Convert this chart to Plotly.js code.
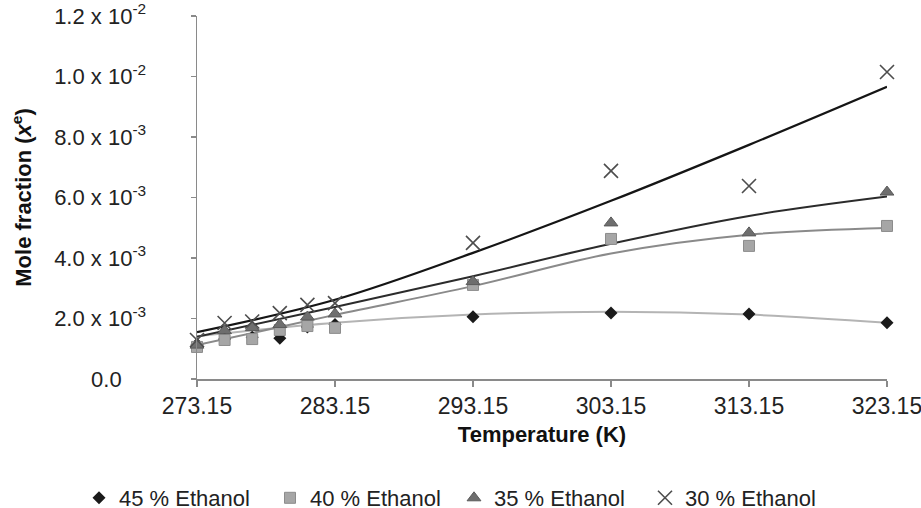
<!DOCTYPE html>
<html><head><meta charset="utf-8">
<script src="https://cdn.plot.ly/plotly-3.0.1.min.js"></script>
<style>html,body{margin:0;padding:0;background:#fff}#chart{width:921px;height:508px}</style>
</head><body><div id="chart"></div>
<script>
// Measured points
const temperatures = [273.15, 275.15, 277.15, 279.15, 281.15, 283.15, 293.15, 303.15, 313.15, 323.15];
const ethanol45 = [0.00115, 0.00132, 0.00138, 0.00135, 0.00172, 0.00180, 0.00206, 0.00218, 0.00215, 0.00186];
const ethanol40 = [0.00106, 0.00129, 0.00132, 0.00162, 0.00175, 0.00169, 0.00311, 0.00463, 0.00440, 0.00506];
const ethanol35 = [0.00112, 0.00160, 0.00170, 0.00180, 0.00205, 0.00215, 0.00322, 0.00516, 0.00483, 0.00618];
const ethanol30 = [0.00129, 0.00185, 0.00190, 0.00218, 0.00245, 0.00251, 0.00450, 0.00688, 0.00638, 0.01015];

// Trend lines
const trendTemperatures = [273.15, 283.15, 293.15, 303.15, 313.15, 323.15];
const trend45 = [0.00141, 0.00186, 0.00213, 0.00222, 0.00213, 0.00186];
const trend40 = [0.00112, 0.00212, 0.00307, 0.00415, 0.00477, 0.00499];
const trend35 = [0.00140, 0.00238, 0.00340, 0.00447, 0.00539, 0.00603];
const trend30 = [0.00155, 0.00262, 0.00417, 0.00589, 0.00774, 0.00966];

const seriesNames = ['45 % Ethanol', '40 % Ethanol', '35 % Ethanol', '30 % Ethanol'];
const xTickValues = [273.15, 283.15, 293.15, 303.15, 313.15, 323.15];
const xTickLabels = ['273.15', '283.15', '293.15', '303.15', '313.15', '323.15'];
const yTickValues = [0, 0.002, 0.004, 0.006, 0.008, 0.010, 0.012];
const yTickLabels = ['0.0\u00a0\u00a0\u00a0\u00a0', '2.0 x 10<sup>-3</sup>', '4.0 x 10<sup>-3</sup>', '6.0 x 10<sup>-3</sup>',
                     '8.0 x 10<sup>-3</sup>', '1.0 x 10<sup>-2</sup>', '1.2 x 10<sup>-2</sup>'];

const FONT = 'Liberation Sans, Arial, sans-serif';

function trendLine(y, color, width) {
  return {x: trendTemperatures, y: y, type: 'scatter', mode: 'lines',
          line: {color: color, width: width, shape: 'spline', smoothing: 1},
          showlegend: false, hoverinfo: 'skip'};
}

const traces = [
  trendLine(trend45, '#b4b4b4', 2),
  trendLine(trend40, '#8a8a8a', 2),
  trendLine(trend35, '#2b2b2b', 2),
  trendLine(trend30, '#151515', 2.2),
  {x: temperatures, y: ethanol45, name: seriesNames[0], type: 'scatter', mode: 'markers', cliponaxis: false,
   legend: 'legend',
   marker: {symbol: 'diamond', size: 10, color: '#1a1a1a', line: {width: 0}}},
  {x: temperatures, y: ethanol40, name: seriesNames[1], type: 'scatter', mode: 'markers', cliponaxis: false,
   legend: 'legend',
   marker: {symbol: 'square', size: 11, color: '#a6a6a6', line: {width: 1, color: '#8c8c8c'}}},
  {x: temperatures, y: ethanol35, name: seriesNames[2], type: 'scatter', mode: 'markers', cliponaxis: false,
   legend: 'legend2',
   marker: {symbol: 'triangle-up', size: 12, color: '#6e6e6e', line: {width: 1, color: '#5a5a5a'}}},
  {x: temperatures, y: ethanol30, name: seriesNames[3], type: 'scatter', mode: 'markers', cliponaxis: false,
   legend: 'legend2',
   marker: {symbol: 'x-thin-open', size: 14, color: '#4d4d4d', line: {width: 1.6, color: '#4d4d4d'}}}
];

const legendStyle = {
  orientation: 'h', xref: 'container', yref: 'container',
  y: 10 / 508, xanchor: 'left', yanchor: 'middle',
  font: {family: FONT, size: 22, color: '#222222'},
  itemwidth: 30, entrywidth: 146, bgcolor: 'rgba(0,0,0,0)', borderwidth: 0
};

const layout = {
  width: 921, height: 508,
  paper_bgcolor: '#ffffff', plot_bgcolor: '#ffffff',
  font: {family: FONT, size: 22, color: '#222222'},
  margin: {l: 197, r: 34, t: 16, b: 129},
  showlegend: true,
  xaxis: {
    range: [273.15, 323.15], tickvals: xTickValues, ticktext: xTickLabels,
    showline: true, linecolor: '#8a8a8a', linewidth: 1.5,
    ticks: 'outside', ticklen: 6, tickwidth: 1.5, tickcolor: '#8a8a8a',
    ticklabeloverflow: 'allow',
    showgrid: false, zeroline: false,
    tickfont: {family: FONT, size: 23, color: '#222222'},
    title: {text: '<b>Temperature (K)</b>', font: {family: FONT, size: 22, color: '#111111'}, standoff: 8}
  },
  yaxis: {
    range: [0, 0.012], tickvals: yTickValues, ticktext: yTickLabels,
    showline: true, linecolor: '#8a8a8a', linewidth: 1.5,
    ticks: 'outside', ticklen: 5, tickwidth: 1.5, tickcolor: '#8a8a8a',
    ticklabelstandoff: 40,
    showgrid: false, zeroline: false,
    tickfont: {family: FONT, size: 22, color: '#222222'},
    title: {text: '<b>Mole fraction (<i>x</i><sup>e</sup>)</b>', font: {family: FONT, size: 22, color: '#111111'}, standoff: 16}
  },
  legend: Object.assign({}, legendStyle, {x: 79 / 921}),
  legend2: Object.assign({}, legendStyle, {x: 454 / 921})
};

Plotly.newPlot('chart', traces, layout, {displayModeBar: false, staticPlot: true});
</script>
</body></html>
